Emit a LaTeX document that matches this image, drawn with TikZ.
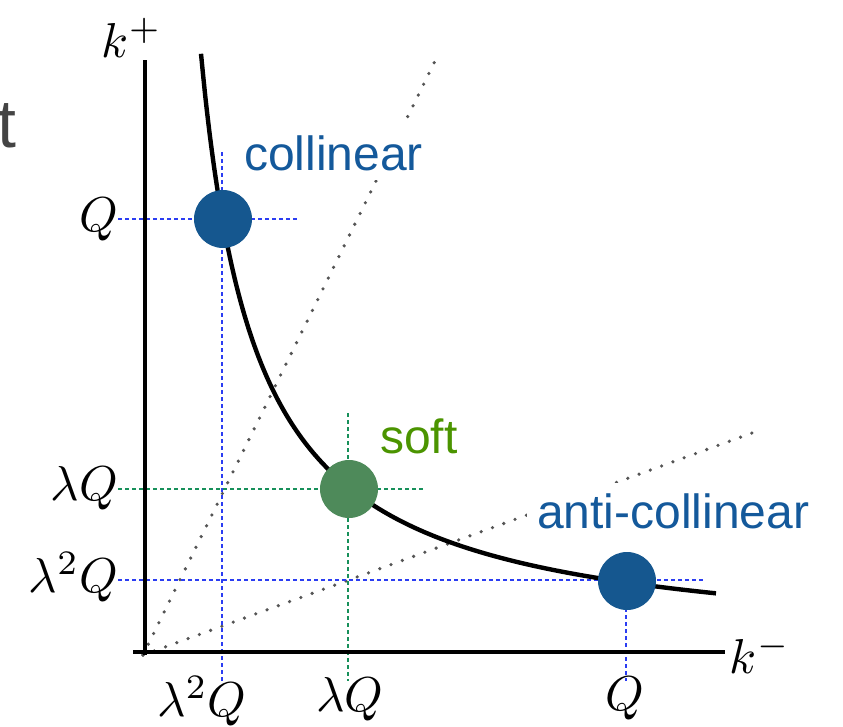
\documentclass[tikz,border=0pt]{standalone}
\usepackage{fontspec}
\newfontfamily\sansf{Liberation Sans}
\definecolor{cblue}{HTML}{15578F}
\definecolor{tblue}{HTML}{14599B}
\definecolor{cgreen}{HTML}{4E8A5A}
\definecolor{tgreen}{HTML}{4B9400}
\definecolor{dblue}{HTML}{2B3DF2}
\definecolor{dgreen}{HTML}{17905A}
\definecolor{dotgray}{HTML}{555555}
\definecolor{tgray}{HTML}{444444}
\begin{document}
\begin{tikzpicture}[x=1pt,y=-1pt,
  bluedash/.style={draw=dblue, line width=2pt, dash pattern=on 3.5pt off 3.5pt},
  greendash/.style={draw=dgreen, line width=2pt, dash pattern=on 3.5pt off 3.5pt},
  dotline/.style={draw=dotgray, line width=3.6pt, line cap=round, dash pattern=on 0pt off 12pt},
  mlab/.style={scale=4.9, inner sep=0pt},
  slab/.style={font=\sansf\fontsize{48}{56}\selectfont, fill=white, inner sep=10pt},
  blob/.style={circle, minimum size=58pt, inner sep=0pt}
]
\useasboundingbox (0,0) rectangle (843,726);
% partial slide text
\node[anchor=base east, inner sep=0pt, text=tgray, font=\sansf\fontsize{68}{70}\selectfont] (tt) at (17,147) {t};
% coordinates
\coordinate (O) at (143,655);
\coordinate (s1) at (437,57);
\coordinate (s2) at (752,433);
% dotted rays
\draw[dotline] (O) -- (s1);
\draw[dotline] (O) -- (s2);
% labels with white backing
\node[slab, anchor=base west, text=tblue] (coll) at (234,170) {collinear};
\node[slab, anchor=base west, text=tgreen, fill=none] (soft) at (370,453) {soft};
\node[slab, anchor=base west, text=tblue] (anti) at (527,528) {anti-collinear};
% guide coordinates
\coordinate (v1t) at (222,152); \coordinate (v1b) at (222,681);
\coordinate (h1l) at (118,219); \coordinate (h1r) at (300,219);
\coordinate (h2l) at (118,489); \coordinate (h2r) at (425,489);
\coordinate (v2t) at (348,413); \coordinate (v2b) at (348,681);
\coordinate (h3l) at (118,580); \coordinate (h3r) at (706,580);
\coordinate (v3t) at (626,580); \coordinate (v3b) at (626,681);
\draw[bluedash] (v1t) -- (v1b);
\draw[bluedash] (h1l) -- (h1r);
\draw[greendash] (h2l) -- (h2r);
\draw[greendash] (v2t) -- (v2b);
\draw[bluedash] (h3l) -- (h3r);
\draw[bluedash] (v3t) -- (v3b);
% axes
\coordinate (ytop) at (145,60); \coordinate (ybot) at (145,655);
\coordinate (xl) at (133,652); \coordinate (xr) at (725,652);
\draw[line width=4pt] (ytop) -- (ybot);
\draw[line width=4pt] (xl) -- (xr);
% hyperbola
\draw[line width=4.4pt] plot[domain=56:571, samples=120, smooth] ({145+\x},{652-(335/\x)*100});
% blobs
\node[blob, fill=cblue] (bc) at (223,219) {};
\node[blob, fill=cgreen] (bs) at (349,489) {};
\node[blob, fill=cblue] (ba) at (627,581) {};
% math labels
\node[mlab, anchor=base west] (kp) at (101,57) {$k^+$};
\node[mlab, anchor=base west] (km) at (729,673) {$k^-$};
\node[mlab, anchor=base east] (lq1) at (119,231) {$Q$};
\node[mlab, anchor=base east] (lq2) at (119,500) {$\lambda Q$};
\node[mlab, anchor=base east] (lq3) at (119,592) {$\lambda^2 Q$};
\node[mlab, anchor=base] (bq1) at (202,716) {$\lambda^2 Q$};
\node[mlab, anchor=base] (bq2) at (350,711) {$\lambda Q$};
\node[mlab, anchor=base] (bq3) at (625,710) {$Q$};
\end{tikzpicture}
\end{document}
